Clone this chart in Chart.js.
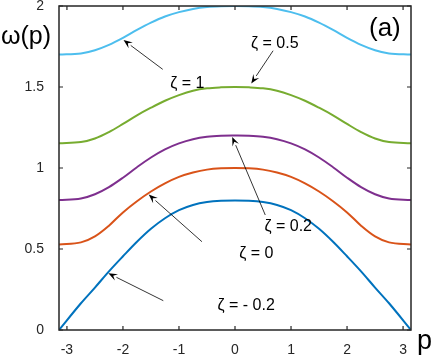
<!DOCTYPE html>
<html><head><meta charset="utf-8">
<script src="https://cdn.jsdelivr.net/npm/chart.js@4/dist/chart.umd.min.js"></script>
<style>html,body{margin:0;padding:0;background:#fff}#wrap{width:436px;height:357px}</style>
</head><body><div id="wrap"><canvas id="c" width="436" height="357"></canvas></div>
<script>
const pVals = [-3.1416,-2.75,-2.5,-2.25,-2,-1.75,-1.5,-1.25,-1,-0.75,-0.5,-0.25,0,0.25,0.5,0.75,1,1.25,1.5,1.75,2,2.25,2.5,2.75,3.1416];
const zetaM02 = [0,0.165,0.262,0.362,0.455,0.545,0.625,0.69,0.74,0.772,0.79,0.798,0.80,0.798,0.79,0.772,0.74,0.69,0.625,0.545,0.455,0.362,0.262,0.165,0];
const zeta0   = [0.527,0.541,0.578,0.644,0.726,0.795,0.855,0.905,0.945,0.972,0.99,0.998,1.0,0.998,0.99,0.972,0.945,0.905,0.855,0.795,0.726,0.644,0.578,0.541,0.527];
const zeta02  = [0.802,0.812,0.838,0.882,0.94,1.005,1.065,1.115,1.152,1.178,1.193,1.199,1.20,1.199,1.193,1.178,1.152,1.115,1.065,1.005,0.94,0.882,0.838,0.812,0.802];
const zeta05  = [1.152,1.16,1.182,1.222,1.272,1.325,1.372,1.415,1.45,1.477,1.492,1.498,1.50,1.498,1.492,1.477,1.45,1.415,1.372,1.325,1.272,1.222,1.182,1.16,1.152];
const zeta1   = [1.70,1.707,1.727,1.76,1.803,1.852,1.897,1.935,1.962,1.982,1.994,1.999,2.0,1.999,1.994,1.982,1.962,1.935,1.897,1.852,1.803,1.76,1.727,1.707,1.70];
const xTicks = [-3,-2,-1,0,1,2,3];
const yTicks = [0,0.5,1,1.5,2];
const yTickLabels = ['0','0.5','1','1.5','2'];
const seriesNames = ['ζ = - 0.2','ζ = 0','ζ = 0.2','ζ = 0.5','ζ = 1'];
const seriesColors = ['#0072BD','#D95319','#7E2F8E','#77AC30','#4DBEEE'];
const seriesData = [zetaM02, zeta0, zeta02, zeta05, zeta1];
// annotations: text center (p, w), arrow tail (p, w), arrow head (p, w)
const annText = ['ζ = 1','ζ = 0.5','ζ = 0.2','ζ = 0','ζ = - 0.2'];
const annTextPos = [[-0.85,1.52],[0.71,1.765],[0.95,0.638],[0.38,0.47],[0.2,0.152]];
const annTail = [[-1.29,1.609],[0.68,1.724],[0.54,0.710],[-0.59,0.545],[-1.28,0.181]];
const annHead = [[-1.99,1.79],[0.29,1.522],[-0.05,1.192],[-1.54,0.836],[-2.26,0.350]];

const fontFam = 'Liberation Sans, Arial, Helvetica, sans-serif';

const drawPlugin = {
  id: 'matlabStyle',
  afterDatasetsDraw(chart) {
    const {ctx, chartArea: a, scales} = chart;
    const xs = scales.x, ys = scales.y;
    ctx.save();
    ctx.strokeStyle = '#262626';
    ctx.lineWidth = 1.5;
    ctx.strokeRect(a.left, a.top, a.right - a.left, a.bottom - a.top);
    ctx.lineWidth = 1.2;
    ctx.beginPath();
    xTicks.forEach(v => {
      const x = xs.getPixelForValue(v);
      ctx.moveTo(x, a.bottom); ctx.lineTo(x, a.bottom - 4);
      ctx.moveTo(x, a.top); ctx.lineTo(x, a.top + 4);
    });
    yTicks.forEach(v => {
      const y = ys.getPixelForValue(v);
      ctx.moveTo(a.left, y); ctx.lineTo(a.left + 4, y);
      ctx.moveTo(a.right, y); ctx.lineTo(a.right - 4, y);
    });
    ctx.stroke();
    // annotations
    ctx.fillStyle = '#000';
    ctx.strokeStyle = '#000';
    for (let i = 0; i < annText.length; i++) {
      const tx = xs.getPixelForValue(annTail[i][0]), ty = ys.getPixelForValue(annTail[i][1]);
      const hx = xs.getPixelForValue(annHead[i][0]), hy = ys.getPixelForValue(annHead[i][1]);
      const ang = Math.atan2(hy - ty, hx - tx);
      const L = 9, W = 3.5;
      const bx = hx - L * Math.cos(ang), by = hy - L * Math.sin(ang);
      ctx.lineWidth = 0.8;
      ctx.beginPath(); ctx.moveTo(tx, ty); ctx.lineTo(bx, by); ctx.stroke();
      ctx.beginPath();
      ctx.moveTo(hx, hy);
      ctx.lineTo(bx + W * Math.sin(ang), by - W * Math.cos(ang));
      ctx.lineTo(hx - 0.6 * L * Math.cos(ang), hy - 0.6 * L * Math.sin(ang));
      ctx.lineTo(bx - W * Math.sin(ang), by + W * Math.cos(ang));
      ctx.closePath(); ctx.fill();
      ctx.font = '16px ' + fontFam;
      ctx.textAlign = 'center'; ctx.textBaseline = 'middle';
      ctx.fillText(annText[i], xs.getPixelForValue(annTextPos[i][0]), ys.getPixelForValue(annTextPos[i][1]));
    }
    // titles
    ctx.fillStyle = '#000';
    ctx.font = '25px ' + fontFam;
    ctx.textAlign = 'left'; ctx.textBaseline = 'alphabetic';
    ctx.fillText('ω(p)', 1, 44);
    ctx.font = '26px ' + fontFam;
    ctx.fillText('(a)', 369, 36);
    ctx.font = '27px ' + fontFam;
    ctx.fillText('p', 417, 349);
    ctx.restore();
  }
};

new Chart(document.getElementById('c'), {
  type: 'line',
  data: {
    datasets: seriesData.map((d, i) => ({
      label: seriesNames[i],
      data: d.map((w, j) => ({x: pVals[j], y: w})),
      borderColor: seriesColors[i],
      borderWidth: 2,
      pointRadius: 0,
      fill: false,
      tension: 0.35
    }))
  },
  options: {
    responsive: false,
    animation: false,
    devicePixelRatio: 1,
    layout: {padding: {left: 0, right: 25, top: 6, bottom: 0}},
    plugins: {legend: {display: false}, tooltip: {enabled: false}},
    scales: {
      x: {
        type: 'linear', min: -Math.PI, max: Math.PI,
        grid: {display: false}, border: {display: false},
        afterBuildTicks: s => { s.ticks = xTicks.map(v => ({value: v})); },
        afterFit: s => { s.height = 27; s.paddingLeft = 0; s.paddingRight = 0; },
        ticks: {color: '#262626', font: {family: fontFam, size: 14}, padding: 4, maxRotation: 0, autoSkip: false, callback: v => String(v)}
      },
      y: {
        type: 'linear', min: 0, max: 2,
        grid: {display: false}, border: {display: false},
        afterBuildTicks: s => { s.ticks = yTicks.map(v => ({value: v})); },
        afterFit: s => { s.width = 59; s.paddingTop = 0; s.paddingBottom = 0; },
        ticks: {color: '#262626', font: {family: fontFam, size: 14}, padding: 7, autoSkip: false,
          callback: (v) => yTickLabels[yTicks.indexOf(v)]}
      }
    }
  },
  plugins: [drawPlugin]
});
</script></body></html>
